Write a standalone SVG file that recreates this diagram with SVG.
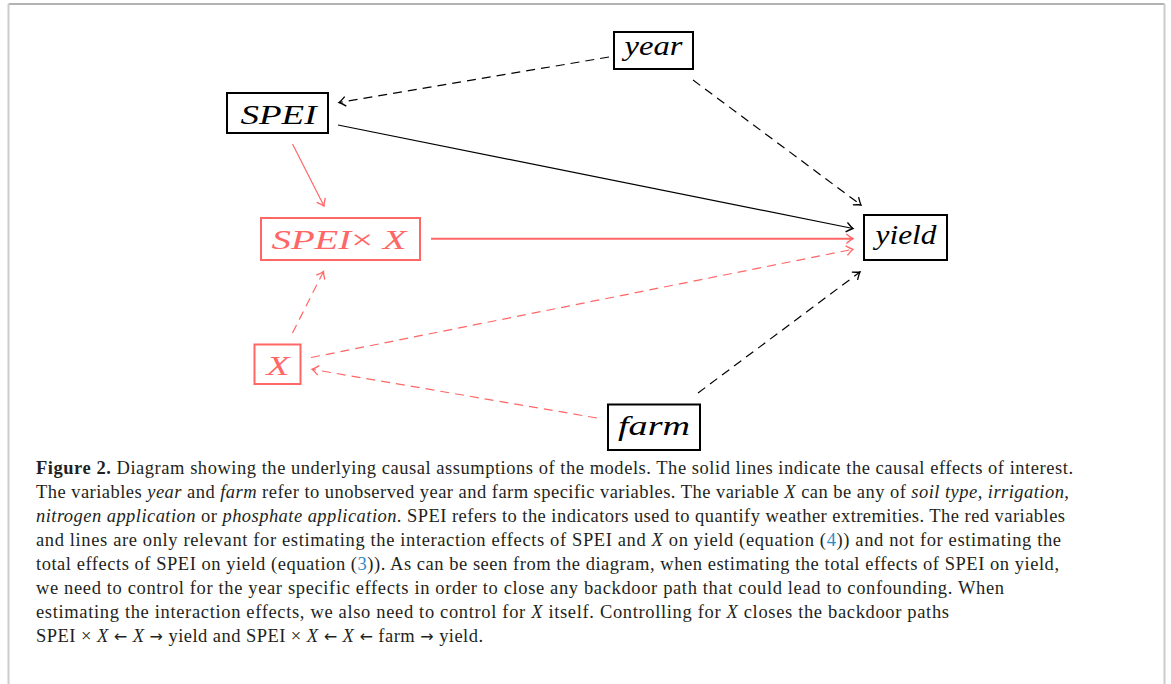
<svg xmlns="http://www.w3.org/2000/svg" width="1171" height="684" viewBox="0 0 1171 684">
<defs>
<style>
.nb{fill:#fff;stroke:#000;stroke-width:2}
.nr{fill:#fff;stroke:#f66;stroke-width:2}
.lt{font-family:"Liberation Serif","DejaVu Serif",serif;font-style:italic;font-size:28px;text-anchor:middle}
.e{fill:none;stroke-width:1.2}
.k{stroke:#000}
.r{stroke:#f66}
.d{stroke-dasharray:9 6}
.cap{font-family:"Liberation Serif","Times New Roman",serif;font-size:18.5px;fill:#231f20}
.i{font-style:italic}
.b{font-weight:bold}
.lk{fill:#2b8cc4}
.ar{font-family:"DejaVu Sans",sans-serif;font-size:16px}
</style>
<marker id="ak" markerWidth="12" markerHeight="12" refX="0" refY="0" viewBox="-7 -5 9 10" orient="auto" markerUnits="userSpaceOnUse">
<path d="M-5.5,-4 Q-2,-1 0,0 Q-2,1 -5.5,4" fill="none" stroke="#000" stroke-width="1.1"/>
</marker>
<marker id="ar" markerWidth="12" markerHeight="12" refX="0" refY="0" viewBox="-7 -5 9 10" orient="auto" markerUnits="userSpaceOnUse">
<path d="M-5.5,-4 Q-2,-1 0,0 Q-2,1 -5.5,4" fill="none" stroke="#f66" stroke-width="1.1"/>
</marker>
</defs>
<rect x="0" y="0" width="1171" height="684" fill="#fff"/>
<path d="M8.5,4 H1164.5" stroke="#999" stroke-width="1.5" fill="none"/>
<path d="M8.5,4 V684 M1164.5,4 V684" stroke="#ccc" stroke-width="2" fill="none"/>

<g id="connectors">
<path class="e k d" d="M609,57 L339,102.5" marker-end="url(#ak)"/>
<path class="e k d" d="M693,80 L861,205" marker-end="url(#ak)"/>
<path class="e k" d="M338,125 L853,228.5" marker-end="url(#ak)"/>
<path class="e r" d="M292.5,144 L324,206" marker-end="url(#ar)"/>
<path class="e r" style="stroke-width:2" d="M431,238.7 L853,238.7" marker-end="url(#ar)"/>
<path class="e r d" d="M292.5,333 L323.5,271.5" marker-end="url(#ar)"/>
<path class="e r d" d="M311,357.5 L853,249.3" marker-end="url(#ar)"/>
<path class="e r d" d="M597,418 L312,369.3" marker-end="url(#ar)"/>
<path class="e k d" d="M698,393 L860,272" marker-end="url(#ak)"/>
</g>

<g id="node-year">
<rect class="nb" x="614" y="32" width="79" height="37"/>
<text class="lt" x="653.5" y="54.5" textLength="58" lengthAdjust="spacingAndGlyphs">year</text>
</g>
<g id="node-spei">
<rect class="nb" x="227" y="93" width="101" height="40"/>
<text class="lt" x="278.5" y="124" textLength="76" lengthAdjust="spacingAndGlyphs">SPEI</text>
</g>
<g id="node-speix">
<rect class="nr" x="261" y="218" width="159" height="42"/>
<text class="lt" x="339" y="248.5" fill="#f66" textLength="135" lengthAdjust="spacingAndGlyphs">SPEI<tspan style="font-style:normal">×</tspan> X</text>
</g>
<g id="node-x">
<rect class="nr" x="254.5" y="344.5" width="46" height="39.5"/>
<text class="lt" x="278" y="375" fill="#f66" textLength="23" lengthAdjust="spacingAndGlyphs">X</text>
</g>
<g id="node-yield">
<rect class="nb" x="864" y="215" width="83" height="45"/>
<text class="lt" x="906" y="243.5" textLength="61" lengthAdjust="spacingAndGlyphs">yield</text>
</g>
<g id="node-farm">
<rect class="nb" x="608" y="404.5" width="92" height="45.5"/>
<text class="lt" x="654" y="435" textLength="72" lengthAdjust="spacingAndGlyphs">farm</text>
</g>

<g id="caption" class="cap">
<text x="36" y="474" textLength="1037" lengthAdjust="spacing"><tspan class="b">Figure 2.</tspan> Diagram showing the underlying causal assumptions of the models. The solid lines indicate the causal effects of interest.</text>
<text x="36" y="498" textLength="1033" lengthAdjust="spacing">The variables <tspan class="i">year</tspan> and <tspan class="i">farm</tspan> refer to unobserved year and farm specific variables. The variable <tspan class="i">X</tspan> can be any of <tspan class="i">soil type, irrigation,</tspan></text>
<text x="36" y="522" textLength="1029" lengthAdjust="spacing"><tspan class="i">nitrogen application</tspan> or <tspan class="i">phosphate application</tspan>. SPEI refers to the indicators used to quantify weather extremities. The red variables</text>
<text x="36" y="546" textLength="1025" lengthAdjust="spacing">and lines are only relevant for estimating the interaction effects of SPEI and <tspan class="i">X</tspan> on yield (equation (<tspan class="lk">4</tspan>)) and not for estimating the</text>
<text x="36" y="570" textLength="1023" lengthAdjust="spacing">total effects of SPEI on yield (equation (<tspan class="lk">3</tspan>)). As can be seen from the diagram, when estimating the total effects of SPEI on yield,</text>
<text x="36" y="594" textLength="968" lengthAdjust="spacing">we need to control for the year specific effects in order to close any backdoor path that could lead to confounding. When</text>
<text x="36" y="618" textLength="913" lengthAdjust="spacing">estimating the interaction effects, we also need to control for <tspan class="i">X</tspan> itself. Controlling for <tspan class="i">X</tspan> closes the backdoor paths</text>
<text x="36" y="642" textLength="447" lengthAdjust="spacing">SPEI × <tspan class="i">X</tspan> <tspan class="ar">←</tspan> <tspan class="i">X</tspan> <tspan class="ar">→</tspan> yield and SPEI × <tspan class="i">X</tspan> <tspan class="ar">←</tspan> <tspan class="i">X</tspan> <tspan class="ar">←</tspan> farm <tspan class="ar">→</tspan> yield.</text>
</g>
</svg>
